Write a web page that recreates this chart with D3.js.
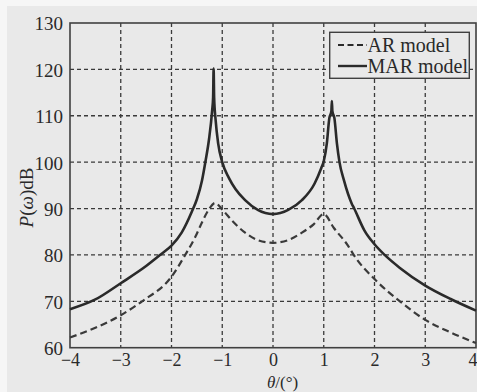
<!DOCTYPE html>
<html>
<head>
<meta charset="utf-8">
<script src="https://cdnjs.cloudflare.com/ajax/libs/d3/7.8.5/d3.min.js"></script>
<style>
    html, body { margin: 0; padding: 0; background: #f6f6f6; }
    svg { display: block; }
    text { font-family: "Liberation Serif", "Times New Roman", serif; fill: #2a2a2a; }
</style>
</head>
<body>
<svg id="chart" width="477" height="392"></svg>
<script>
/*globals d3*/

var thetaTicks = [-4, -3, -2, -1, 0, 1, 2, 3, 4];
var powerTicks = [60, 70, 80, 90, 100, 110, 120, 130];

// MAR model (solid)
var marTheta = [-4.0, -3.5, -3.0, -2.5, -2.2, -2.0, -1.8, -1.6, -1.5, -1.4, -1.33, -1.26, -1.2, -1.18, -1.17,
    -1.16, -1.13, -1.08, -1.0, -0.87, -0.74, -0.55, -0.3, 0.0, 0.3, 0.57, 0.82, 0.95, 1.0, 1.06, 1.11,
    1.15, 1.16, 1.17, 1.21, 1.26, 1.31, 1.4, 1.55, 1.6, 1.8, 2.0, 2.2, 2.5, 3.0, 3.5, 4.0];
var marPower = [68.3, 70.4, 73.9, 77.6, 80.2, 82.0, 84.8, 89.3, 92.0, 96.0, 100.2, 105.0, 111.0, 114.0, 120.2,
    114.0, 109.0, 104.0, 100.0, 96.6, 94.2, 91.8, 89.7, 88.8, 89.7, 91.8, 95.4, 98.7, 100.2, 104.0, 109.5,
    111.0, 113.2, 111.0, 109.5, 104.0, 100.0, 96.0, 91.1, 90.0, 85.3, 82.3, 80.0, 77.2, 73.4, 70.5, 68.0];

// AR model (dashed)
var arTheta = [-4.0, -3.5, -3.0, -2.58, -2.0, -1.73, -1.53, -1.4, -1.27, -1.14, -1.0, -0.8, -0.55, -0.3, 0.0,
    0.3, 0.57, 0.8, 1.0, 1.2, 1.49, 1.59, 2.0, 2.5, 3.0, 3.5, 4.0];
var arPower = [62.2, 64.3, 67.0, 70.0, 75.3, 80.0, 83.9, 87.0, 89.7, 91.2, 89.8, 87.3, 84.8, 83.2, 82.6,
    83.2, 84.8, 86.6, 88.8, 85.8, 81.8, 80.0, 74.8, 70.0, 66.0, 63.3, 61.0];

var legendLabels = ["AR model", "MAR model"];

(function () {
    "use strict";

    var svg = d3.select("#chart"),
        left = 70,
        right = 476,
        top = 23,
        bottom = 347.7,
        x,
        y,
        line,
        ink = "#2e2e2e",
        legend;

    svg.append("rect")
        .attr("x", 7)
        .attr("y", 6)
        .attr("width", 470)
        .attr("height", 386)
        .attr("fill", "#e9e9e9");

    x = d3.scaleLinear().domain([-4, 4]).range([left, right]);
    y = d3.scaleLinear().domain([60, 130]).range([bottom, top]);

    // dashed grid
    svg.append("g").selectAll("line")
        .data(thetaTicks.slice(1, -1))
        .enter().append("line")
        .attr("x1", function (d) { return x(d); })
        .attr("x2", function (d) { return x(d); })
        .attr("y1", top)
        .attr("y2", bottom)
        .attr("stroke", "#3a3a3a")
        .attr("stroke-width", 1.3)
        .attr("stroke-dasharray", "4,3");
    svg.append("g").selectAll("line")
        .data(powerTicks.slice(1, -1))
        .enter().append("line")
        .attr("x1", left)
        .attr("x2", right)
        .attr("y1", function (d) { return y(d); })
        .attr("y2", function (d) { return y(d); })
        .attr("stroke", "#3a3a3a")
        .attr("stroke-width", 1.3)
        .attr("stroke-dasharray", "4,3");

    // axes (labels only, frame drawn below)
    svg.append("g")
        .attr("transform", "translate(" + left + ",0)")
        .call(d3.axisLeft(y).tickValues(powerTicks).tickSize(0).tickPadding(7))
        .call(function (g) {
            g.select(".domain").remove();
            g.selectAll("text").attr("font-size", 19).attr("fill", ink).attr("dy", "0.36em");
        });
    svg.append("g")
        .attr("transform", "translate(0," + bottom + ")")
        .call(d3.axisBottom(x).tickValues(thetaTicks).tickSize(0).tickPadding(6)
            .tickFormat(function (d) { return d < 0 ? "\u2212" + Math.abs(d) : String(d); }))
        .call(function (g) {
            g.select(".domain").remove();
            g.selectAll("text").attr("font-size", 18).attr("fill", ink);
            // last label sits at the right edge of the page
            g.selectAll("text").filter(function (d) { return d === 4; })
                .attr("text-anchor", "end")
                .attr("dx", 1);
        });

    svg.append("rect")
        .attr("x", left)
        .attr("y", top)
        .attr("width", right - left)
        .attr("height", bottom - top)
        .attr("fill", "none")
        .attr("stroke", "#404040")
        .attr("stroke-width", 1.6);

    line = d3.line()
        .x(function (d) { return x(d[0]); })
        .y(function (d) { return y(d[1]); })
        .curve(d3.curveMonotoneX);

    svg.append("path")
        .datum(d3.zip(arTheta, arPower))
        .attr("d", line)
        .attr("fill", "none")
        .attr("stroke", "#3a3a3a")
        .attr("stroke-width", 2.2)
        .attr("stroke-dasharray", "7,4");

    svg.append("path")
        .datum(d3.zip(marTheta, marPower))
        .attr("d", line)
        .attr("fill", "none")
        .attr("stroke", "#2a2a2a")
        .attr("stroke-width", 2.6)
        .attr("stroke-linejoin", "round");

    // axis titles
    svg.append("text")
        .attr("transform", "translate(33,197.5) rotate(-90)")
        .attr("text-anchor", "middle")
        .attr("font-size", 19)
        .html("<tspan font-style=\"italic\">P</tspan>(<tspan font-style=\"italic\">\u03c9</tspan>)dB");
    svg.append("text")
        .attr("x", 267)
        .attr("y", 388)
        .attr("font-size", 17)
        .html("<tspan font-style=\"italic\">\u03b8</tspan>/(\u00b0)");

    // legend
    legend = svg.append("g");
    legend.append("rect")
        .attr("x", 329.7)
        .attr("y", 32.3)
        .attr("width", 139.6)
        .attr("height", 46)
        .attr("fill", "#e9e9e9")
        .attr("stroke", "#404040")
        .attr("stroke-width", 1.4);
    legend.selectAll("line")
        .data(legendLabels)
        .enter().append("line")
        .attr("x1", 338)
        .attr("x2", 367)
        .attr("y1", function (d, i) { return 45 + i * 21; })
        .attr("y2", function (d, i) { return 45 + i * 21; })
        .attr("stroke", "#2a2a2a")
        .attr("stroke-width", function (d, i) { return i === 0 ? 1.8 : 2.4; })
        .attr("stroke-dasharray", function (d, i) { return i === 0 ? "6,3.5" : null; });
    legend.selectAll("text")
        .data(legendLabels)
        .enter().append("text")
        .attr("x", 367.5)
        .attr("y", function (d, i) { return 51.5 + i * 21; })
        .attr("font-size", 20)
        .text(function (d) { return d; });
}());
</script>
</body>
</html>
